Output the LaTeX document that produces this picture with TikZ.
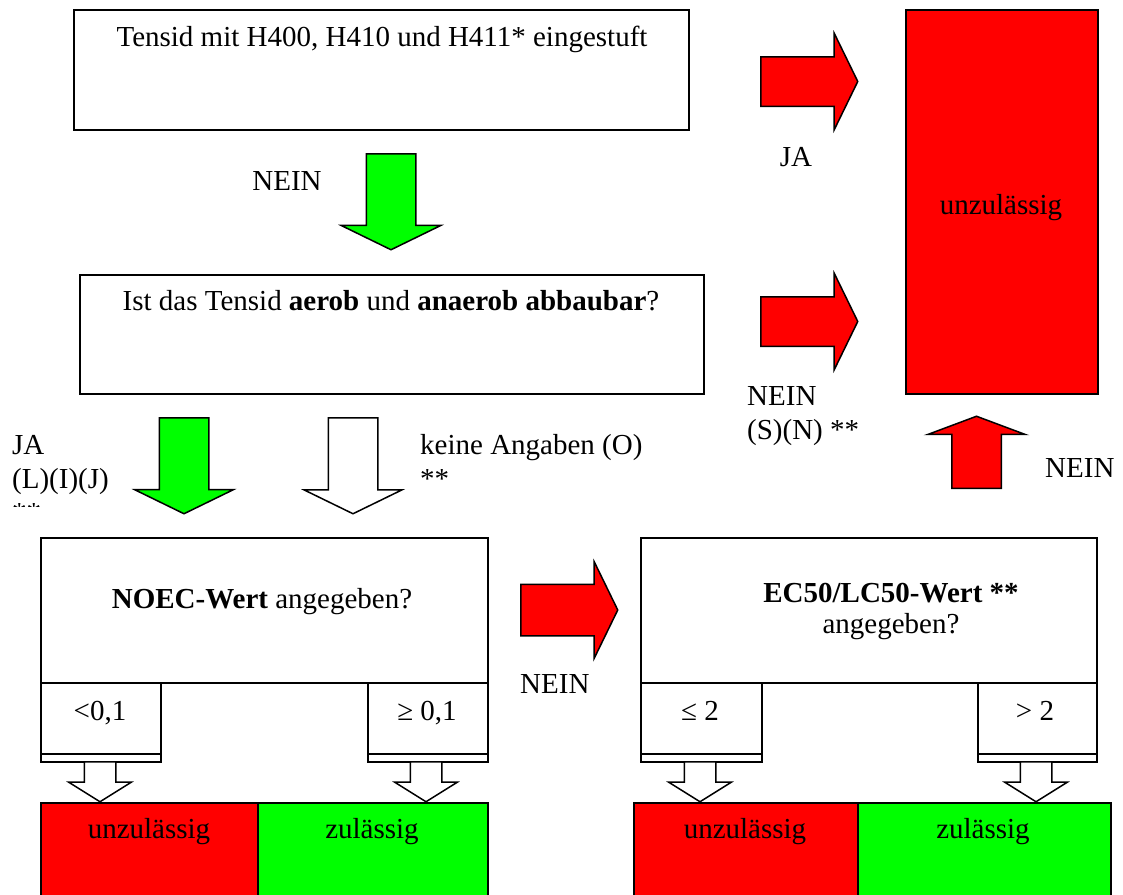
\documentclass[tikz,border=0pt]{standalone}
\usepackage{fontspec}
\setmainfont{Liberation Serif}
\usetikzlibrary{shapes.arrows}

\begin{document}
\begin{tikzpicture}[x=1pt, y=-1pt,
    boxNode/.style={draw, line width=1.5pt, fill=white, inner sep=0pt, anchor=north west},
    redNode/.style={boxNode, fill=red},
    greenNode/.style={boxNode, fill=green},
    arrowNode/.style={single arrow, draw, line width=1.5pt, inner xsep=0pt, inner ysep=24pt,
      single arrow tip angle=128, anchor=tail},
    txtNode/.style={inner sep=0pt, anchor=base},
    font=\fontsize{29}{34}\selectfont]
  \useasboundingbox (0,0) rectangle (1123,894);
  \clip (0,0) rectangle (1123,894);
  % Fragen oben
  \node [boxNode, minimum width=615pt, minimum height=120pt] (ghs) at (73,9) {};
  \node [txtNode] (ghsTxt) at (382,46) {Tensid mit H400, H410 und H411* eingestuft};
  \node [boxNode, minimum width=624pt, minimum height=119pt] (abbau) at (79,274) {};
  \node [txtNode] (abbauTxt) at (391,310) {Ist das Tensid \textbf{aerob} und \textbf{anaerob abbaubar}?};
  \node [redNode, minimum width=192pt, minimum height=384pt] (verbot) at (905,9) {};
  \node [txtNode] (verbotTxt) at (1001,214) {unzulässig};
  % NOEC
  \node [boxNode, minimum width=447pt, minimum height=145pt] (noec) at (40,537) {};
  \node [txtNode] (noecTxt) at (262,608) {\textbf{NOEC-Wert} angegeben?};
  \node [boxNode, minimum width=120pt, minimum height=71pt] (noecLo) at (40,682) {};
  \node [boxNode, minimum width=120pt, minimum height=8pt] (noecLoFuss) at (40,753) {};
  \node [boxNode, minimum width=120pt, minimum height=71pt] (noecHi) at (367,682) {};
  \node [boxNode, minimum width=120pt, minimum height=8pt] (noecHiFuss) at (367,753) {};
  \node [txtNode] (noecLoTxt) at (100,720) {<0,1};
  \node [txtNode] (noecHiTxt) at (427,720) {≥ 0,1};
  \node [redNode, minimum width=217pt, minimum height=160pt] (noecNein) at (40,802) {};
  \node [greenNode, minimum width=230pt, minimum height=160pt] (noecJa) at (257,802) {};
  \node [txtNode] (noecNeinTxt) at (149,838) {unzulässig};
  \node [txtNode] (noecJaTxt) at (372,838) {zulässig};
  % EC50/LC50
  \node [boxNode, minimum width=456pt, minimum height=145pt] (ec) at (640,537) {};
  \node [txtNode, align=center] (ecTxt) at (891,633) {\textbf{EC50/LC50-Wert **}\\[-3pt]angegeben?};
  \node [boxNode, minimum width=121pt, minimum height=71pt] (ecLo) at (640,682) {};
  \node [boxNode, minimum width=121pt, minimum height=8pt] (ecLoFuss) at (640,753) {};
  \node [boxNode, minimum width=119pt, minimum height=71pt] (ecHi) at (977,682) {};
  \node [boxNode, minimum width=119pt, minimum height=8pt] (ecHiFuss) at (977,753) {};
  \node [txtNode] (ecLoTxt) at (700,720) {≤ 2};
  \node [txtNode] (ecHiTxt) at (1035,720) {> 2};
  \node [redNode, minimum width=224pt, minimum height=160pt] (ecNein) at (633,802) {};
  \node [greenNode, minimum width=253pt, minimum height=160pt] (ecJa) at (857,802) {};
  \node [txtNode] (ecNeinTxt) at (745,838) {unzulässig};
  \node [txtNode] (ecJaTxt) at (983,838) {zulässig};
  % Pfeile
  \node [arrowNode, fill=green, rotate=-90, minimum height=96pt,
    single arrow head extend=25pt] (pGhs) at (391,153) {};
  \node [arrowNode, fill=green, rotate=-90, minimum height=96pt,
    single arrow head extend=24.5pt] (pJa) at (184,417) {};
  \node [arrowNode, fill=white, rotate=-90, minimum height=96pt,
    single arrow head extend=24pt] (pKeine) at (353,417) {};
  \node [arrowNode, fill=red, minimum height=97pt,
    single arrow head extend=23.5pt] (pGhsJa) at (760,81.5) {};
  \node [arrowNode, fill=red, minimum height=97pt,
    single arrow head extend=23.5pt] (pAbbauNein) at (760,321.5) {};
  \node [arrowNode, fill=red, minimum height=97pt, inner ysep=25pt,
    single arrow head extend=22.5pt] (pNoecNein) at (520,610) {};
  \node [arrowNode, fill=red, rotate=90, single arrow tip angle=139, minimum height=72pt,
    single arrow head extend=24pt] (pEcNein) at (976.5,489) {};
  \foreach \cx/\nm in {100/pNoecLo, 426/pNoecHi, 700/pEcLo, 1036/pEcHi}
    \node [arrowNode, fill=white, rotate=-90, single arrow tip angle=116, minimum height=40pt,
      inner ysep=15pt, single arrow head extend=15.5pt] (\nm) at (\cx,761) {};
  % Beschriftungen
  \node [txtNode] (lNein) at (287,190) {NEIN};
  \node [txtNode] (lJa) at (796,166) {JA};
  \node [txtNode, anchor=base west, align=left] (lAbbauNein) at (747,439) {NEIN\\(S)(N) **};
  \node [txtNode, anchor=base west] (lEcNein) at (1045,477) {NEIN};
  \begin{scope}
    \clip (0,400) rectangle (130,506);
    \node [txtNode, anchor=base west, align=left] (lAbbauJa) at (12,522) {JA\\(L)(I)(J)\\**};
  \end{scope}
  \node [txtNode, anchor=base west, align=left] (lKeine) at (420,488) {keine Angaben (O)\\**};
  \node [txtNode, anchor=base west] (lNoecNein) at (520,693) {NEIN};
\end{tikzpicture}
\end{document}
